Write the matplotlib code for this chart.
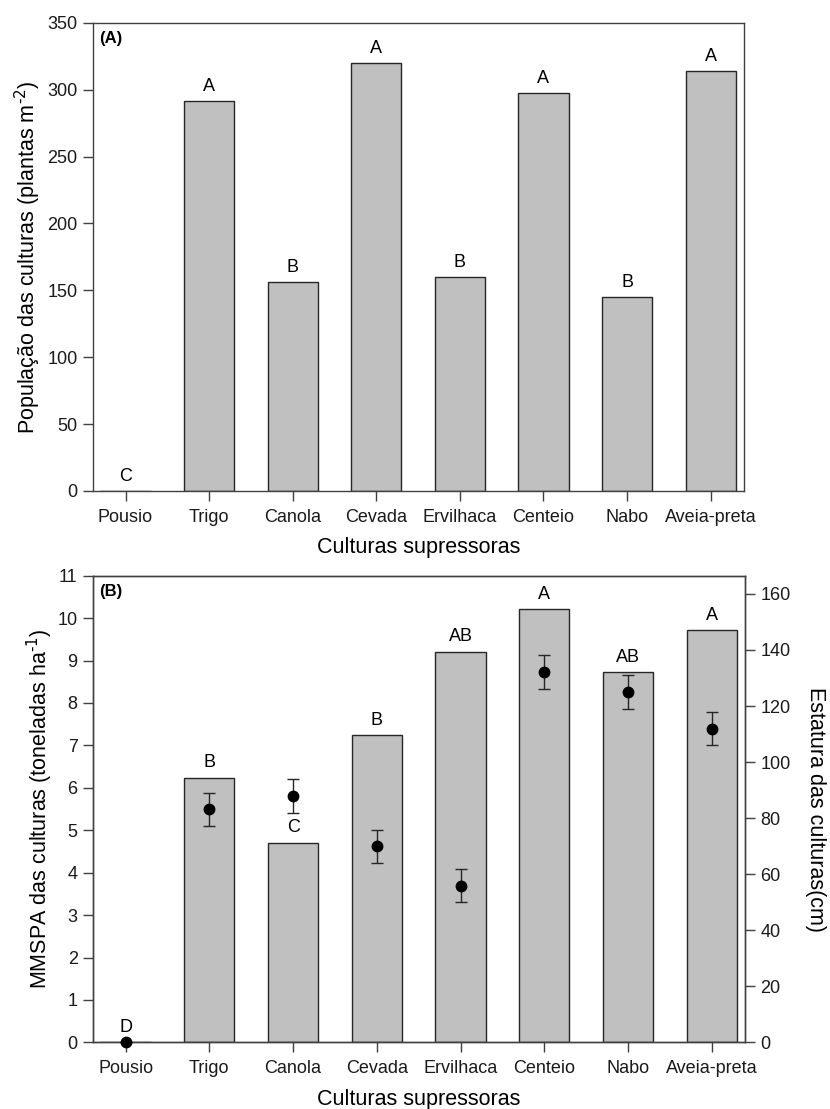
import numpy as np
import matplotlib.pyplot as plt

plt.rcParams['font.family'] = ['Liberation Sans', 'DejaVu Sans']

# dados das culturas supressoras
culturas = ['Pousio', 'Trigo', 'Canola', 'Cevada', 'Ervilhaca', 'Centeio', 'Nabo', 'Aveia-preta']
populacao = [0, 291.4, 156.2, 319.9, 159.9, 297.2, 144.7, 314.0]
letras_pop = ['C', 'A', 'B', 'A', 'B', 'A', 'B', 'A']

mmspa = [0, 6.24, 4.71, 7.24, 9.21, 10.22, 8.72, 9.71]
letras_mmspa = ['D', 'B', 'C', 'B', 'AB', 'A', 'AB', 'A']

estatura = [0, 83.2, 87.9, 69.9, 55.9, 132.2, 125.0, 111.9]
erro_estatura = [0, 5.9, 5.9, 6.0, 6.0, 6.0, 6.0, 5.8]

cor_barra = '#c0c0c0'
cor_borda = '#262626'
cor_eixo = '#404040'
x = np.arange(len(culturas))


def estilo_eixo(ax):
    ax.tick_params(direction='out', length=7, width=1, pad=4, labelsize=13,
                   color=cor_eixo, labelcolor='#1a1a1a')
    ax.tick_params(axis='x', pad=6)
    for s in ax.spines.values():
        s.set_linewidth(1.0)
        s.set_color(cor_eixo)
    ax.set_xticks(x)
    ax.set_xticklabels(culturas)
    ax.set_xlim(-0.39, 7.4)
    ax.set_xlabel('Culturas supressoras', fontsize=15.5, labelpad=8)


def letras(ax, valores, rotulos):
    for xi, v, l in zip(x, valores, rotulos):
        ax.annotate(l, (xi, v), xytext=(0, 4.5), textcoords='offset points',
                    ha='center', va='bottom', fontsize=13)


fig = plt.figure(figsize=(8.3, 11.09), dpi=100)

# ---- (A) populacao das culturas ----
ax1 = fig.add_axes([0.112, 0.5573, 0.7844, 0.4222])
ax1.bar(x, populacao, width=0.6, color=cor_barra, edgecolor=cor_borda, linewidth=1.0)
letras(ax1, populacao, letras_pop)
ax1.set_ylim(0, 350)
ax1.set_yticks(np.arange(0, 351, 50))
estilo_eixo(ax1)
ax1.set_ylabel(r'População das culturas (plantas m$^{\text{-2}}$)', fontsize=15.5, labelpad=3)
ax1.text(0.009, 0.982, '(A)', transform=ax1.transAxes, fontsize=12,
         fontweight='bold', va='top', ha='left')

# ---- (B) MMSPA e estatura ----
ax2 = fig.add_axes([0.112, 0.0601, 0.786, 0.4208])
ax2.bar(x, mmspa, width=0.6, color=cor_barra, edgecolor=cor_borda, linewidth=1.0)
letras(ax2, mmspa, letras_mmspa)
ax2.set_ylim(0, 11)
ax2.set_yticks(np.arange(0, 12, 1))
estilo_eixo(ax2)
ax2.set_ylabel(r'MMSPA das culturas (toneladas ha$^{\text{-1}}$)', fontsize=15.5, labelpad=2)
ax2.text(0.009, 0.982, '(B)', transform=ax2.transAxes, fontsize=12,
         fontweight='bold', va='top', ha='left')

ax3 = ax2.twinx()
ax3.errorbar(x, estatura, yerr=erro_estatura, fmt='o', color='black',
             ecolor='#262626', elinewidth=1.0, capsize=4.5, capthick=1.0,
             markersize=7.5, clip_on=False, zorder=5)
ax3.set_ylim(0, 166.5)
ax3.set_yticks(np.arange(0, 161, 20))
ax3.tick_params(direction='out', length=7, width=1, pad=4, labelsize=13,
                color=cor_eixo, labelcolor='#1a1a1a')
ax3.set_ylabel('Estatura das culturas(cm)', fontsize=15.5, rotation=270, labelpad=25)
for s in ax3.spines.values():
    s.set_linewidth(1.0)
    s.set_color(cor_eixo)

fig.savefig('out.png', dpi=100)
